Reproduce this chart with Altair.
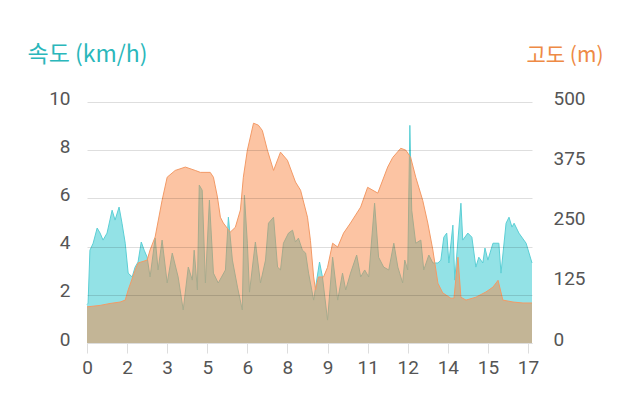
import altair as alt
import pandas as pd

# distance (km) and speed (km/h)
speed_km = [0.00, 0.04, 0.11, 0.23, 0.38, 0.49, 0.60, 0.75, 0.94, 1.05, 1.20, 1.31, 1.43, 1.54,
            1.69, 1.80, 1.91, 2.03, 2.14, 2.25, 2.36, 2.55, 2.66, 2.81, 3.00, 3.19, 3.41, 3.60,
            3.79, 3.94, 4.01, 4.13, 4.20, 4.31, 4.43, 4.58, 4.73, 4.91, 5.18, 5.29, 5.44, 5.63,
            5.81, 5.89, 6.00, 6.08, 6.30, 6.49, 6.68, 6.79, 6.98, 7.13, 7.24, 7.35, 7.54, 7.69,
            7.80, 7.91, 8.06, 8.18, 8.29, 8.48, 8.70, 8.81, 9.00, 9.19, 9.38, 9.56, 9.68, 9.86,
            10.09, 10.24, 10.39, 10.54, 10.76, 10.91, 11.10, 11.29, 11.48, 11.63, 11.81, 11.89,
            12.00, 12.08, 12.15, 12.30, 12.49, 12.60, 12.79, 12.94, 13.13, 13.24, 13.35, 13.46,
            13.54, 13.69, 13.76, 13.99, 14.06, 14.25, 14.40, 14.55, 14.66, 14.81, 14.89, 15.00,
            15.19, 15.41, 15.49, 15.68, 15.79, 15.90, 15.98, 16.16, 16.43, 16.65]
speed_val = [1.60, 1.65, 3.85, 4.14, 4.77, 4.56, 4.27, 4.56, 5.51, 5.10, 5.64, 4.97, 4.14, 2.90,
             2.74, 3.15, 3.36, 4.19, 3.85, 3.56, 2.74, 4.35, 3.03, 4.27, 2.49, 3.73, 2.74, 1.37,
             3.15, 2.61, 3.85, 2.20, 6.55, 6.34, 2.49, 5.93, 2.90, 2.49, 3.03, 5.22, 3.44, 2.32,
             1.37, 6.13, 4.14, 2.11, 4.19, 2.49, 3.44, 4.97, 5.22, 3.15, 3.03, 4.14, 4.56, 4.68,
             4.19, 4.35, 3.85, 3.73, 2.90, 1.78, 3.36, 2.74, 0.95, 3.56, 1.78, 2.90, 2.20, 2.90,
             3.65, 2.74, 3.03, 2.74, 5.80, 3.56, 3.15, 3.03, 4.14, 3.15, 2.49, 3.44,
             3.03, 9.03, 5.51, 4.14, 4.27, 3.03, 3.65, 3.32, 3.32, 3.44, 4.39, 4.56,
             3.32, 4.89, 2.61, 5.80, 4.27, 4.56, 4.39, 3.15, 3.56, 3.32, 3.94, 3.44,
             4.14, 4.14, 2.90, 4.97, 5.22, 4.81, 4.97, 4.56, 4.14, 3.32]

# distance (km) and altitude (m)
alt_km = [0.00, 0.49, 0.86, 1.24, 1.43, 1.54, 1.80, 1.91, 2.25, 2.36, 2.55, 2.81, 3.00, 3.30,
          3.68, 4.05, 4.24, 4.61, 4.73, 4.88, 4.99, 5.10, 5.36, 5.55, 5.74, 5.85, 6.00, 6.23,
          6.41, 6.56, 6.75, 6.98, 7.24, 7.50, 7.80, 7.99, 8.25, 8.36, 8.48, 8.55, 8.66, 8.85,
          9.00, 9.19, 9.38, 9.60, 9.86, 10.24, 10.50, 10.88, 11.25, 11.44, 11.74, 11.93, 12.11,
          12.30, 12.56, 12.75, 12.94, 13.13, 13.31, 13.61, 13.73, 13.88, 13.99, 14.18, 14.55,
          14.93, 15.19, 15.38, 15.56, 15.94, 16.31, 16.65]
alt_val = [75, 78, 82, 85, 89, 110, 151, 166, 172, 193, 220, 296, 344, 358,
           365, 358, 354, 354, 344, 303, 261, 249, 230, 240, 276, 344, 400, 456,
           452, 441, 400, 358, 396, 379, 334, 317, 261, 213, 137, 110, 137, 137,
           157, 207, 199, 228, 249, 282, 323, 311, 365, 385, 404, 400, 385,
           344, 296, 249, 193, 124, 104, 93, 93, 178, 95, 89, 95,
           106, 116, 130, 89, 85, 83, 83]

x_ticks = [0, 1.5, 3, 4.5, 6, 7.5, 9, 10.5, 12, 13.5, 15, 16.5]
speed_ticks = [0, 2, 4, 6, 8, 10]
alt_ticks = [0, 125, 250, 375, 500]

speed_df = pd.DataFrame({"km": speed_km, "v": speed_val})
alt_df = pd.DataFrame({"km": alt_km, "a": alt_val})

FONT = "Roboto, 'Noto Sans CJK KR', sans-serif"
TFONT = "'Noto Sans CJK KR', 'Noto Sans', sans-serif"
LABEL = "#555555"

x_axis = alt.Axis(values=x_ticks, format=".0f", grid=False, title=None,
                  domainColor="#dddddd", tickColor="#dddddd", tickSize=10,
                  labelPadding=5, labelFontSize=19, labelColor=LABEL, labelFont=FONT,
                  labelFlush=False, labelOverlap=False, zindex=1)
x_enc = alt.X("km:Q", scale=alt.Scale(domain=[0, 16.65], nice=False, zero=False), axis=x_axis)

y_speed = alt.Y("v:Q", scale=alt.Scale(domain=[0, 10], nice=False),
                axis=alt.Axis(orient="left", values=speed_ticks, grid=True,
                              gridColor="#000000", gridOpacity=0.13, domain=False, ticks=False,
                              labelPadding=17, labelFontSize=19, labelColor=LABEL, labelFont=FONT,
                              labelOffset=-4,
                              title="속도 (km/h)", titleAngle=0, titleX=-60, titleY=-41,
                              titleAlign="left", titleBaseline="alphabetic",
                              titleColor="#2ab7bb", titleFontSize=23, titleFontWeight="normal",
                              titleFont=TFONT, zindex=1))

y_alt = alt.Y("a:Q", scale=alt.Scale(domain=[0, 500], nice=False),
              axis=alt.Axis(orient="right", values=alt_ticks, grid=False, domain=False, ticks=False,
                            labelPadding=21, labelFontSize=19, labelColor=LABEL, labelFont=FONT,
                            labelOffset=-4,
                            title="고도 (m)", titleAngle=0, titleX=71, titleY=-41,
                            titleAlign="right", titleBaseline="alphabetic",
                            titleColor="#ee8a45", titleFontSize=21, titleFontWeight="normal",
                            titleFont=TFONT, zindex=1))

speed_base = alt.Chart(speed_df).encode(x=x_enc, y=y_speed)
speed_layer = alt.layer(
    speed_base.mark_area(color="#93e2e6", opacity=1),
    speed_base.mark_line(color="#5ccfd5", strokeWidth=1),
)

alt_base = alt.Chart(alt_df).encode(x=x_enc, y=y_alt)
alt_layer = alt.layer(
    alt_base.mark_area(color="#f8843f", opacity=0.48),
    alt_base.mark_line(color="#f39a66", strokeWidth=1),
)

chart = alt.layer(speed_layer, alt_layer).resolve_scale(y="independent").properties(
    width=445, height=241,
    autosize=alt.AutoSizeParams(type="none"),
    padding={"left": 79, "top": 94, "right": 90, "bottom": 50},
).configure_view(stroke=None)

chart.save("out.html", embed_options={"renderer": "svg", "actions": False})
